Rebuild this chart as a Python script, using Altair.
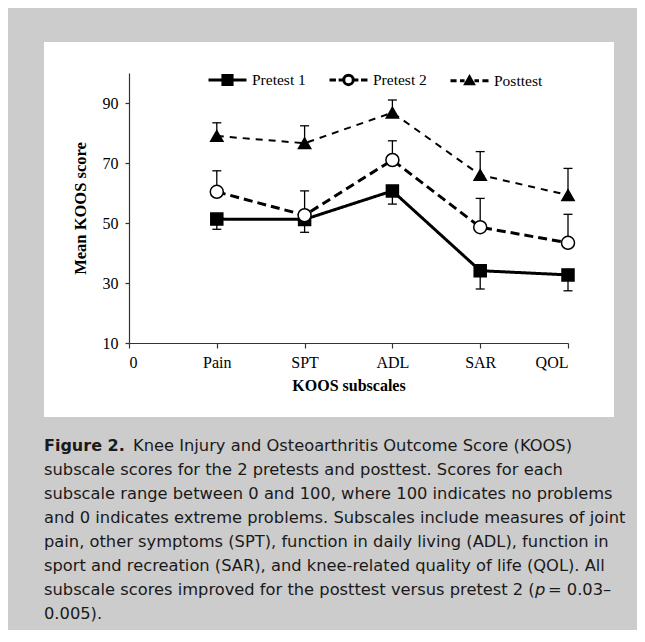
import altair as alt
import pandas as pd

# ---------------- data ----------------
categories = ["Pain", "SPT", "ADL", "SAR", "QOL"]
x_tick_labels = ["0", "Pain", "SPT", "ADL", "SAR", "QOL"]
series_names = ["Pretest 1", "Pretest 2", "Posttest"]

pretest1_mean = [51.3, 51.2, 60.7, 34.1, 32.7]
pretest1_err = [3.4, 4.3, 4.4, 6.1, 5.3]      # drawn downward
pretest2_mean = [60.4, 52.6, 71.0, 48.6, 43.4]
pretest2_err = [7.0, 8.1, 6.4, 9.6, 9.5]      # drawn upward
posttest_mean = [79.0, 76.6, 86.8, 66.0, 59.3]
posttest_err = [4.4, 5.8, 4.2, 7.8, 8.9]      # drawn upward

y_ticks = [10, 30, 50, 70, 90]

caption_lines = [
    "subscale scores for the 2 pretests and posttest. Scores for each",
    "subscale range between 0 and 100, where 100 indicates no problems",
    "and 0 indicates extreme problems. Subscales include measures of joint",
    "pain, other symptoms (SPT), function in daily living (ADL), function in",
    "sport and recreation (SAR), and knee-related quality of life (QOL). All",
]
caption_head_bold = "Figure 2."
caption_head_rest = "Knee Injury and Osteoarthritis Outcome Score (KOOS)"
caption_p_line = ["subscale scores improved for the posttest versus pretest 2 (", "p", " = 0.03\u2013"]
caption_last = "0.005)."

# ---------------- table ----------------
means = {"Pretest 1": pretest1_mean, "Pretest 2": pretest2_mean, "Posttest": posttest_mean}
errs = {"Pretest 1": pretest1_err, "Pretest 2": pretest2_err, "Posttest": posttest_err}
direction = {"Pretest 1": -1, "Pretest 2": 1, "Posttest": 1}
rows = []
for s in series_names:
    for i, c in enumerate(categories):
        m = means[s][i]
        rows.append({"series": s, "subscale": c, "xi": i + 1, "mean": m,
                     "end": m + direction[s] * errs[s][i]})
df = pd.DataFrame(rows)

SERIF = "Liberation Serif"
SANS = "DejaVu Sans"

label_expr = "[" + ",".join("'%s'" % t for t in x_tick_labels) + "][datum.value]"
x_axis = alt.Axis(values=list(range(len(x_tick_labels))), labelExpr=label_expr,
                  title="KOOS subscales", grid=False, tickSize=5, labelPadding=6,
                  labelFont=SERIF, labelFontSize=16, labelColor="black",
                  titleFont=SERIF, titleFontSize=16, titleFontWeight="bold",
                  titleColor="black", titlePadding=7, domainColor="#333",
                  tickColor="#333", domainWidth=1.2, tickWidth=1.2, zindex=1)
y_axis = alt.Axis(values=y_ticks, title="Mean KOOS score", grid=False,
                  tickSize=4, labelPadding=7, labelFont=SERIF, labelFontSize=16,
                  labelColor="black", titleFont=SERIF, titleFontSize=16.5,
                  titleFontWeight="bold", titleColor="black", titlePadding=14,
                  domainColor="#333", tickColor="#333", domainWidth=1.2,
                  tickWidth=1.2, zindex=1)
x_scale = alt.Scale(domain=[0, 5], nice=False, zero=False)
y_scale = alt.Scale(domain=[10, 100], nice=False, zero=False)

X = alt.X("xi:Q", scale=x_scale, axis=x_axis)
Y = alt.Y("mean:Q", scale=y_scale, axis=y_axis)

style = {
    "Pretest 1": dict(width=3, dash=[1, 0], shape="square", fill="black", size=144),
    "Pretest 2": dict(width=3, dash=[9, 5], shape="circle", fill="white", size=169),
    "Posttest": dict(width=2, dash=[7, 6], shape="triangle-up", fill="black", size=150),
}

# white panel behind the figure
panel = alt.Chart(pd.DataFrame({"k": [0]})).mark_rect(color="white").encode(
    x=alt.value(-85), x2=alt.value(485), y=alt.value(-31), y2=alt.value(344))

layers = [panel]
line_layers, err_layers, pt_layers = [], [], []
for s in series_names:
    st = style[s]
    base = alt.Chart(df).transform_filter(alt.datum.series == s)
    line_layers.append(base.mark_line(color="black", strokeWidth=st["width"],
                                      strokeDash=st["dash"]).encode(x=X, y=Y))
    err_layers.append(base.mark_rule(color="black", strokeWidth=1.3).encode(
        x=X, y=Y, y2="end:Q"))
    err_layers.append(base.mark_rule(color="black", strokeWidth=1.3,
                                     xOffset=-4.5, x2Offset=4.5).encode(
        x=X, x2="xi:Q", y=alt.Y("end:Q", scale=y_scale, axis=y_axis)))
    pt_layers.append(base.mark_point(shape=st["shape"], size=st["size"], filled=True,
                                     fill=st["fill"], stroke="black",
                                     strokeWidth=1.5, opacity=1).encode(x=X, y=Y))
layers += line_layers + err_layers + pt_layers

# legend (drawn by the library from the series domain)
legend_paths = [
    "M-1,0H1M-0.24,-0.24H0.24V0.24H-0.24Z",
    "M-1,0H-0.66M-0.52,0H-0.27M0.27,0H0.52M0.66,0H1"
    "M0.25,0A0.25,0.25,0,1,1,-0.25,0A0.25,0.25,0,1,1,0.25,0Z",
    "M-1,0H-0.68M-0.5,0H-0.26M0.26,0H0.5M0.68,0H1M0,-0.2L0.2,0.15L-0.2,0.15Z",
]
leg = dict(orient="none", legendX=78, legendY=-14, direction="horizontal",
           title=None, symbolSize=1444, symbolStrokeWidth=2.5,
           symbolStrokeColor="black", labelFont=SERIF, labelFontSize=15.5,
           labelColor="black", labelOffset=4, columnPadding=17, padding=0,
           labelLimit=300, zindex=1)
legend_layer = alt.Chart(pd.DataFrame({"series": series_names})).transform_filter(
    "false").mark_point(size=1444, filled=False, opacity=1).encode(
    shape=alt.Shape("series:N", scale=alt.Scale(domain=series_names, range=legend_paths),
                    legend=alt.Legend(**leg)),
    fill=alt.Fill("series:N", scale=alt.Scale(domain=series_names,
                                              range=["black", "white", "black"]),
                  legend=alt.Legend(**leg)),
    stroke=alt.Stroke("series:N", scale=alt.Scale(domain=series_names,
                                                  range=["black", "black", "black"]),
                      legend=alt.Legend(**leg)),
    strokeWidth=alt.StrokeWidth("series:N", scale=alt.Scale(domain=series_names,
                                                            range=[3, 3, 2]),
                                legend=alt.Legend(**leg)),
)
layers.append(legend_layer)

# caption
cap_x = -85
cap_y0 = 373
cap_dy = 24
cap_font = dict(font=SANS, fontSize=16.3, color="#1a1a1a", align="left", baseline="middle")


def text_layer(txt, x, y, **kw):
    opts = dict(cap_font)
    opts.update(kw)
    return alt.Chart(pd.DataFrame({"t": [txt]})).mark_text(**opts).encode(
        text="t:N", x=alt.value(x), y=alt.value(y))


layers.append(text_layer(caption_head_bold, cap_x, cap_y0, fontWeight="bold", fontSize=16))
layers.append(text_layer(caption_head_rest, 4, cap_y0))
for k, line in enumerate(caption_lines):
    layers.append(text_layer(line, cap_x, cap_y0 + cap_dy * (k + 1)))
yp = cap_y0 + cap_dy * 6
layers.append(text_layer(caption_p_line[0], cap_x, yp))
layers.append(text_layer(caption_p_line[1], 406, yp, fontStyle="italic"))
layers.append(text_layer(caption_p_line[2], 419, yp))
layers.append(text_layer(caption_last, cap_x, cap_y0 + cap_dy * 7))

chart = alt.layer(*layers).properties(
    width=439, height=270,
    autosize=alt.AutoSizeParams(type="none"),
    padding={"left": 121, "top": 65, "right": 69, "bottom": 287},
    background="#cccccc",
).configure_view(stroke=None)

chart.save("out.html", embed_options={"renderer": "svg", "actions": False})
